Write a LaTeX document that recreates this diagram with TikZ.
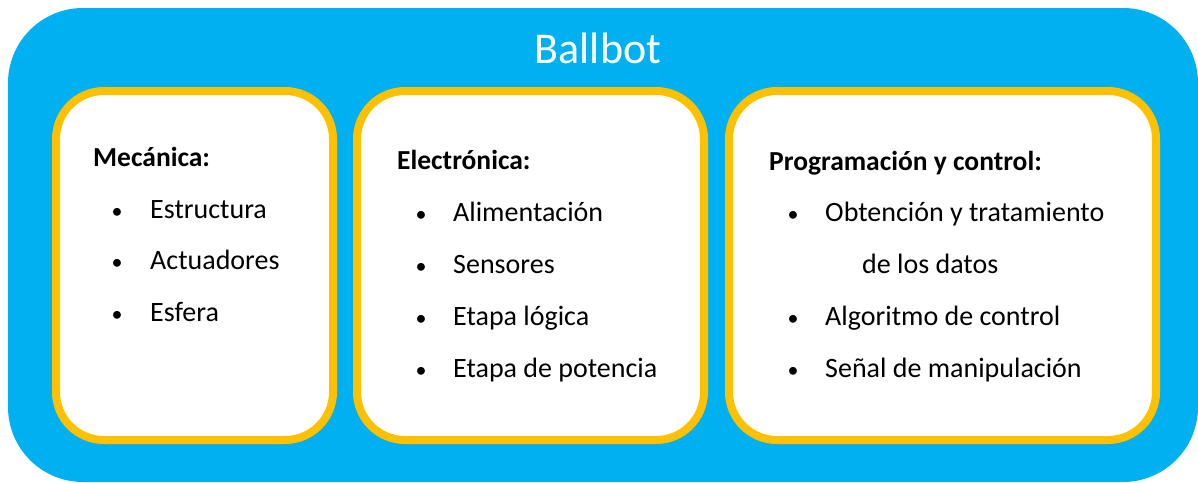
\documentclass[tikz,border=0pt]{standalone}
\usepackage{fontspec}
\setmainfont{Carlito}
\definecolor{ballblue}{HTML}{00B0F0}
\definecolor{ballyellow}{HTML}{FFC000}
\tikzset{
  panel/.style={draw=ballyellow, line width=8pt, fill=white, rounded corners=48pt},
  heading/.style={anchor=base west, inner sep=0pt, font=\fontsize{27.5}{32}\selectfont\bfseries},
  item/.style={anchor=base west, inner sep=0pt, font=\fontsize{28}{33}\selectfont},
  dot/.style={anchor=base, inner sep=0pt, font=\fontsize{22}{26}\selectfont},
}
\begin{document}
\begin{tikzpicture}[x=1pt, y=-1pt]
\useasboundingbox (0,0) rectangle (1198,482);
% fondo
\fill[ballblue, rounded corners=75pt] (8,8) rectangle (1198,482);
\node[anchor=base, inner sep=0pt, text=white, font=\fontsize{44}{50}\selectfont] (ballbot) at (598,63) {Ballbot};

% recuadros
\draw[panel] (56,91) rectangle (333,440);
\draw[panel] (357,91) rectangle (704,440);
\draw[panel] (729,91) rectangle (1156,440);

% Mecanica
\node[heading] (mech) at (93,166) {Mecánica:};
\node[dot] (mechd1) at (117,218) {•};
\node[item] (mech1) at (150,218) {Estructura};
\node[dot] (mechd2) at (117,269) {•};
\node[item] (mech2) at (150,269) {Actuadores};
\node[dot] (mechd3) at (117,321) {•};
\node[item] (mech3) at (150,321) {Esfera};

% Electronica
\node[heading] (elec) at (397,169) {Electrónica:};
\node[dot] (elecd1) at (421,221) {•};
\node[item] (elec1) at (453,221) {Alimentación};
\node[dot] (elecd2) at (421,273) {•};
\node[item] (elec2) at (453,273) {Sensores};
\node[dot] (elecd3) at (421,325) {•};
\node[item] (elec3) at (453,325) {Etapa lógica};
\node[dot] (elecd4) at (421,377) {•};
\node[item] (elec4) at (453,377) {Etapa de potencia};

% Programacion y control
\node[heading] (prog) at (769,170) {Programación y control:};
\node[dot] (progd1) at (793,221) {•};
\node[item] (prog1) at (825,221) {Obtención y tratamiento};
\node[item] (prog1b) at (862,273) {de los datos};
\node[dot] (progd2) at (793,325) {•};
\node[item] (prog2) at (825,325) {Algoritmo de control};
\node[dot] (progd3) at (793,377) {•};
\node[item] (prog3) at (825,377) {Señal de manipulación};
\end{tikzpicture}
\end{document}
